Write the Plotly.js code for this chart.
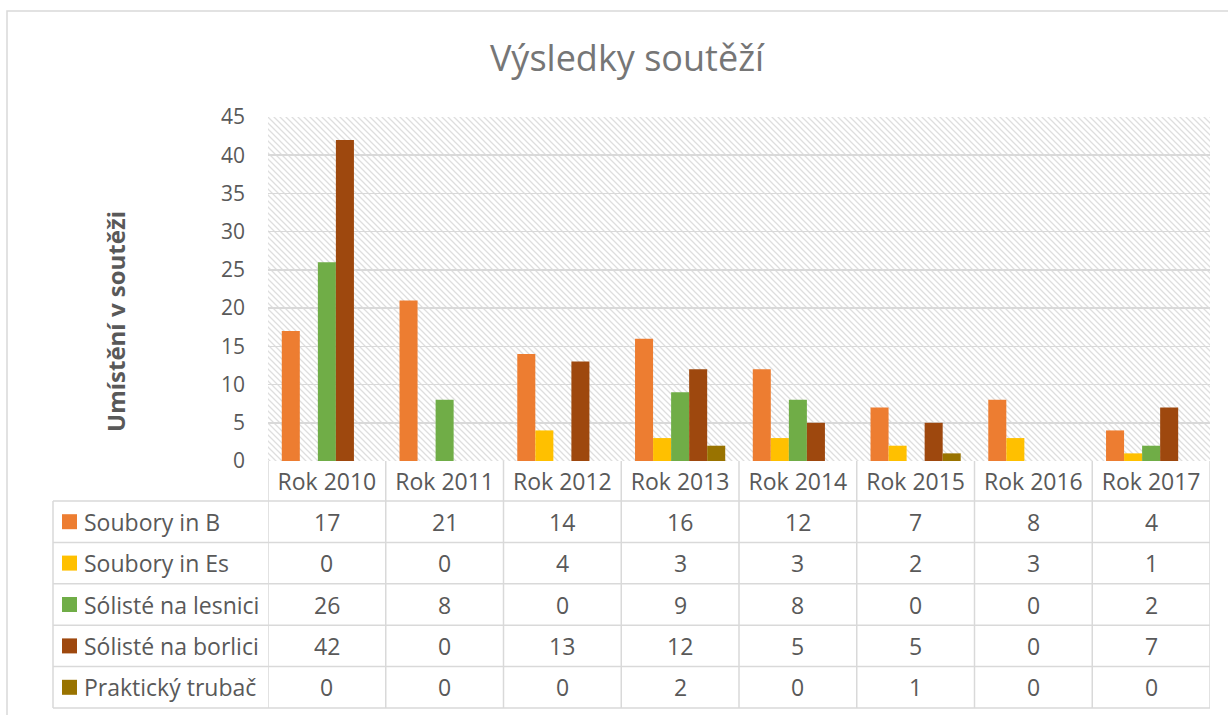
<!DOCTYPE html>
<html>
<head>
<meta charset="utf-8">
<script src="https://cdn.plot.ly/plotly-3.0.1.min.js"></script>
<style>html,body{margin:0;padding:0;background:#fff;}#chart{width:1228px;height:715px;}</style>
</head>
<body>
<div id="chart"></div>
<script>
// ---- data ----
const categories = ["Rok 2010","Rok 2011","Rok 2012","Rok 2013","Rok 2014","Rok 2015","Rok 2016","Rok 2017"];
const seriesNames = ["Soubory in B","Soubory in Es","Sólisté na lesnici","Sólisté na borlici","Praktický trubač"];
const souboryB   = [17,21,14,16,12,7,8,4];
const souboryEs  = [0,0,4,3,3,2,3,1];
const solisteLes = [26,8,0,9,8,0,0,2];
const solisteBor = [42,0,13,12,5,5,0,7];
const trubac     = [0,0,0,2,0,1,0,0];
const seriesColors = ["#ED7D31","#FFC000","#70AD47","#9E480E","#997300"];
const yTickVals = [0,5,10,15,20,25,30,35,40,45];

const seriesValues = [souboryB, souboryEs, solisteLes, solisteBor, trubac];

// ---- geometry (pixels) ----
const W = 1228, H = 715;
const L = 268, R = 1210, T = 117, B = 461;
const pw = R - L, ph = B - T;
const px = x => (x - L) / pw;
const py = y => (B - y) / ph;
const rowTop = 501, rowH = 41.4, tableLeft = 53, tableBottom = 708;
const textColor = "#595959", gridColor = "#d9d9d9";
const font = "Open Sans, sans-serif";

const traces = seriesValues.map((vals, i) => ({
  type: "bar", x: categories, y: vals, name: seriesNames[i],
  marker: {color: seriesColors[i]}, hoverinfo: "skip"
}));

// hatch pattern image
const hatchSvg = `<svg xmlns="http://www.w3.org/2000/svg" width="${pw}" height="${ph}"><defs><pattern id="p" width="6" height="6" patternUnits="userSpaceOnUse"><path d="M-1,-1 L7,7 M-7,-1 L1,7 M5,-1 L13,7" stroke="#dedede" stroke-width="1.3"/></pattern></defs><rect width="${pw}" height="${ph}" fill="url(#p)"/></svg>`;
const hatchUri = "data:image/svg+xml;base64," + btoa(hatchSvg);

const shapes = [];
const annotations = [];
const lineStyle = {color: gridColor, width: 1.5};

// outer border
shapes.push({type:"rect", xref:"paper", yref:"paper", x0:px(7), x1:px(1240), y0:py(11), y1:py(730), line:{color:"#d9d9d9", width:1.5}, layer:"below"});

// vertical table lines at category boundaries
for (let k = 0; k <= categories.length; k++) {
  shapes.push({type:"line", xref:"x", yref:"paper", x0:k-0.5, x1:k-0.5, y0:py(B), y1:py(tableBottom), line:lineStyle});
}
// left column vertical line
shapes.push({type:"line", xref:"paper", yref:"paper", x0:px(tableLeft), x1:px(tableLeft), y0:py(rowTop), y1:py(tableBottom), line:lineStyle});
// horizontal lines
for (let r = 0; r <= seriesNames.length; r++) {
  const y = rowTop + r * rowH;
  shapes.push({type:"line", xref:"paper", yref:"paper", x0:px(tableLeft), x1:1, y0:py(y), y1:py(y), line:lineStyle});
}

// rows: legend keys, labels, values
seriesNames.forEach((name, r) => {
  const cy = rowTop + r * rowH + rowH / 2;
  shapes.push({type:"rect", xref:"paper", yref:"paper", x0:px(62), x1:px(77), y0:py(cy-7.5), y1:py(cy+7.5), line:{width:0}, fillcolor:seriesColors[r]});
  annotations.push({xref:"paper", yref:"paper", x:px(82), y:py(cy), xanchor:"left", yanchor:"middle", text:name, showarrow:false, font:{family:font, size:23, color:textColor}});
  seriesValues[r].forEach((v, c) => {
    annotations.push({xref:"x", yref:"paper", x:c, y:py(cy), xanchor:"center", yanchor:"middle", text:String(v), showarrow:false, font:{family:font, size:23, color:textColor}});
  });
});

// y axis title
annotations.push({xref:"paper", yref:"paper", x:px(115), y:py(322), text:"Umístění v soutěži", textangle:-90, showarrow:false, xanchor:"center", yanchor:"middle", font:{family:font, size:24, color:textColor, weight:"bold"}});

const layout = {
  width: W, height: H,
  margin: {l: L, r: W - R, t: T, b: H - B, pad: 0},
  paper_bgcolor: "#ffffff", plot_bgcolor: "rgba(0,0,0,0)",
  showlegend: false,
  barmode: "group", bargap: 0.234, bargroupgap: 0,
  title: {text: "Výsledky soutěží", x: 627/W, xref: "container", xanchor: "center", y: 1 - 58/H, yref: "container", yanchor: "middle", font: {family: font, size: 36, color: "#767676", weight: 400}},
  xaxis: {type: "category", showgrid: false, showline: false, zeroline: false, ticks: "", tickfont: {family: font, size: 23, color: textColor}, ticklabelstandoff: 5, range: [-0.5, categories.length - 0.5], fixedrange: true},
  yaxis: {range: [0, 45], tickvals: yTickVals, showgrid: true, gridcolor: gridColor, gridwidth: 1.5, zeroline: false, showline: false, ticks: "", tickfont: {family: font, size: 21, color: textColor}, ticklabelstandoff: 22, fixedrange: true},
  images: [{source: hatchUri, xref: "paper", yref: "paper", x: 0, y: 1, sizex: 1, sizey: 1, xanchor: "left", yanchor: "top", sizing: "stretch", layer: "below"}],
  shapes: shapes,
  annotations: annotations
};

Plotly.newPlot("chart", traces, layout, {displayModeBar: false, staticPlot: true});
</script>
</body>
</html>
